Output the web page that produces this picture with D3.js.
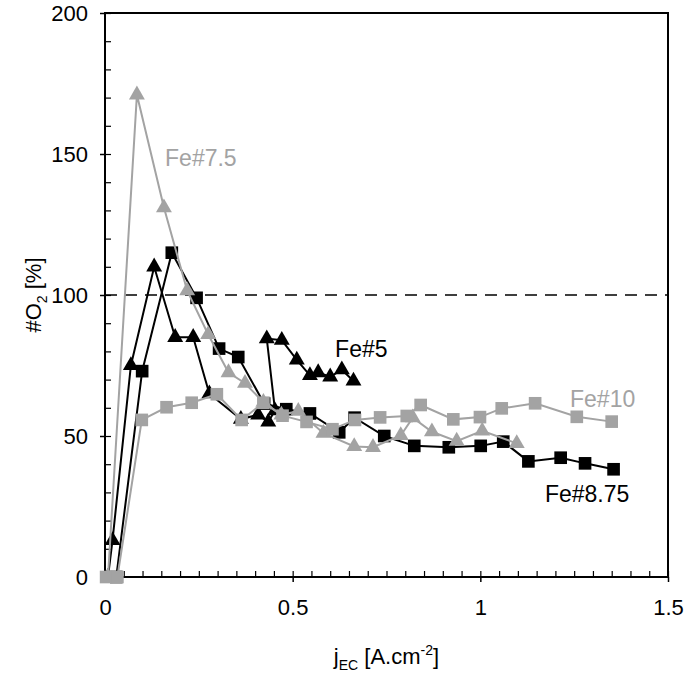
<!DOCTYPE html>
<html>
<head>
<meta charset="utf-8">
<script src="https://cdn.jsdelivr.net/npm/d3@7/dist/d3.min.js"></script>
<style>
  html, body { margin: 0; padding: 0; background: #fff; }
  svg { display: block; font-family: "Liberation Sans", Arial, sans-serif; }
</style>
</head>
<body>
<svg id="chart"></svg>
<script>
// values: current density j_EC [A.cm-2] vs #O2 [%]
const fe5J = [0.008, 0.02, 0.069, 0.131, 0.187, 0.235, 0.278, 0.362, 0.408, 0.435, 0.453, 0.431, 0.471, 0.511, 0.546, 0.568, 0.6, 0.631, 0.662];
const fe5O2 = [0, 13, 75, 110, 85, 85, 65, 56, 57.5, 55, 59, 84.5, 84, 77, 71.5, 72.5, 71, 73.5, 69.5];

const fe75J = [0.008, 0.085, 0.157, 0.219, 0.275, 0.329, 0.373, 0.422, 0.47, 0.515, 0.582, 0.664, 0.714, 0.788, 0.82, 0.871, 0.937, 1.005, 1.097];
const fe75O2 = [0, 171, 131, 101.5, 86, 72.5, 68.7, 62, 57.5, 58.8, 51, 46.3, 46, 50.2, 56.5, 51.5, 48.2, 51.8, 47.4];

const fe875J = [0.03, 0.099, 0.178, 0.244, 0.304, 0.355, 0.424, 0.483, 0.546, 0.624, 0.665, 0.744, 0.824, 0.916, 1.001, 1.061, 1.128, 1.214, 1.279, 1.355];
const fe875O2 = [0, 73, 115, 99, 81, 78, 61.5, 59.5, 58, 51.3, 56.5, 50, 46.5, 46, 46.5, 48, 41, 42.3, 40.3, 38.2];

const fe10J = [0.003, 0.033, 0.098, 0.164, 0.231, 0.298, 0.364, 0.422, 0.473, 0.537, 0.606, 0.666, 0.733, 0.804, 0.841, 0.928, 0.999, 1.057, 1.146, 1.257, 1.35];
const fe10O2 = [0, 0, 55.7, 60.2, 61.8, 64.8, 55.7, 61.8, 57.2, 55, 52.4, 55.7, 56.6, 57.1, 61, 55.9, 56.7, 59.8, 61.6, 56.8, 55.1];

const xTicks = [0, 0.5, 1, 1.5];
const yTicks = [0, 50, 100, 150, 200];
const refLine = 100;

// series drawn in this order (last on top)
const series = [
  { name: "Fe#5", j: fe5J, o2: fe5O2, color: "#000", shape: "triangle", label: [0.613, 78] },
  { name: "Fe#8.75", j: fe875J, o2: fe875O2, color: "#000", shape: "square", label: [1.172, 26.6] },
  { name: "Fe#7.5", j: fe75J, o2: fe75O2, color: "#a3a3a3", shape: "triangle", label: [0.16, 145.7] },
  { name: "Fe#10", j: fe10J, o2: fe10O2, color: "#a3a3a3", shape: "square", label: [1.239, 60.3] },
];

const width = 685, height = 678;
const margin = { top: 13, right: 17, bottom: 101, left: 105 };

const svg = d3.select("#chart").attr("width", width).attr("height", height);

const x = d3.scaleLinear().domain([0, 1.5]).range([margin.left, width - margin.right]);
const y = d3.scaleLinear().domain([0, 200]).range([height - margin.bottom, margin.top]);

// minor ticks, pointing into the plot
svg.append("g")
  .attr("transform", `translate(0,${y(0)})`)
  .call(d3.axisBottom(x).tickValues(d3.range(0, 31).map((i) => i * 0.05)).tickSize(-6).tickFormat(""))
  .call((g) => g.select(".domain").remove())
  .selectAll("line").attr("stroke-width", 1.2);

svg.append("g")
  .attr("transform", `translate(${x(0)},0)`)
  .call(d3.axisLeft(y).tickValues(d3.range(0, 21).map((i) => i * 10)).tickSize(-6).tickFormat(""))
  .call((g) => g.select(".domain").remove())
  .selectAll("line").attr("stroke-width", 1.2);

// major ticks with labels
const xAxis = svg.append("g")
  .attr("transform", `translate(0,${y(0)})`)
  .call(d3.axisBottom(x).tickValues(xTicks).tickSize(5).tickPadding(17).tickFormat(d3.format("")));
xAxis.select(".domain").remove();
xAxis.selectAll("line").attr("stroke-width", 1.5);
xAxis.selectAll("text").attr("font-size", 22).attr("font-family", "Liberation Sans, Arial, sans-serif").attr("fill", "#000");

const yAxis = svg.append("g")
  .attr("transform", `translate(${x(0)},0)`)
  .call(d3.axisLeft(y).tickValues(yTicks).tickSize(5).tickPadding(12));
yAxis.select(".domain").remove();
yAxis.selectAll("line").attr("stroke-width", 1.5);
yAxis.selectAll("text").attr("font-size", 22).attr("font-family", "Liberation Sans, Arial, sans-serif").attr("fill", "#000");

// frame
svg.append("rect")
  .attr("x", x(0))
  .attr("y", y(200))
  .attr("width", x(1.5) - x(0))
  .attr("height", y(0) - y(200))
  .attr("fill", "none")
  .attr("stroke", "#000")
  .attr("stroke-width", 2);

// 100 % reference
svg.append("line")
  .attr("x1", x(0)).attr("x2", x(1.5))
  .attr("y1", y(refLine)).attr("y2", y(refLine))
  .attr("stroke", "#000")
  .attr("stroke-width", 1.5)
  .attr("stroke-dasharray", "12,8");

const line = d3.line().x((d) => x(d[0])).y((d) => y(d[1]));

series.forEach((s) => {
  const pts = s.j.map((v, i) => [v, s.o2[i]]);
  const g = svg.append("g");
  g.append("path")
    .attr("d", line(pts))
    .attr("fill", "none")
    .attr("stroke", s.color)
    .attr("stroke-width", 2);
  const sym = s.shape === "square"
    ? d3.symbol(d3.symbolSquare, 160)
    : d3.symbol(d3.symbolTriangle, 110);
  g.selectAll("path.mark")
    .data(pts)
    .join("path")
    .attr("class", "mark")
    .attr("transform", (d) => `translate(${x(d[0])},${y(d[1])})`)
    .attr("d", sym)
    .attr("fill", s.color);
});

// series labels
svg.append("g")
  .selectAll("text")
  .data(series)
  .join("text")
  .attr("x", (d) => x(d.label[0]))
  .attr("y", (d) => y(d.label[1]))
  .attr("font-size", 23)
  .attr("fill", (d) => d.color)
  .text((d) => d.name);

// axis titles
const yTitle = svg.append("text")
  .attr("transform", `translate(41,${y(100)}) rotate(-90)`)
  .attr("text-anchor", "middle")
  .attr("font-size", 22);
yTitle.append("tspan").text("#O");
yTitle.append("tspan").attr("font-size", 14).attr("dy", 6).text("2");
yTitle.append("tspan").attr("dy", -6).text(" [%]");

const xTitle = svg.append("text")
  .attr("x", x(0.75))
  .attr("y", 664)
  .attr("text-anchor", "middle")
  .attr("font-size", 22);
xTitle.append("tspan").text("j");
xTitle.append("tspan").attr("font-size", 14).attr("dy", 6).text("EC");
xTitle.append("tspan").attr("dy", -6).text(" [A.cm");
xTitle.append("tspan").attr("font-size", 14).attr("dy", -9).text("-2");
xTitle.append("tspan").attr("dy", 9).text("]");
</script>
</body>
</html>
